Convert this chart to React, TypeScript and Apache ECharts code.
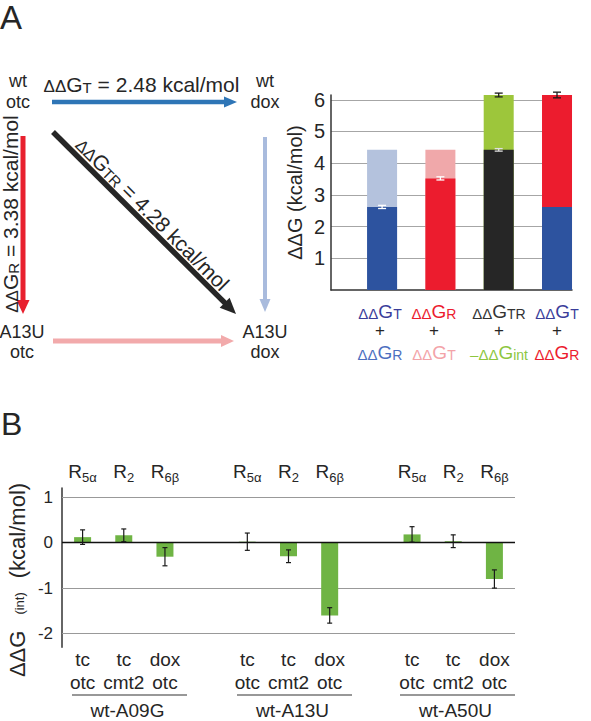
import React, { useEffect, useRef } from 'react';
import * as echarts from 'echarts';

const FONT = '"Liberation Sans", Arial, Helvetica, sans-serif';
const INK = '#262626';

// ---------------- Panel A: stacked bar chart ----------------
const aBarPositions = [1, 2, 3, 4];
const aLowerValues = [2.62, 3.52, 4.42, 2.62];
const aUpperValues = [1.8, 0.9, 1.73, 3.53];
const aLowerColors = ['#2d539f', '#ec1c2e', '#262626', '#2d539f'];
const aUpperColors = ['#b4c2dd', '#f0a8aa', '#9dc63b', '#ec1c2e'];
const aErrPositions = [1, 2, 3, 3, 4];
const aErrCenters = [2.62, 3.52, 4.42, 6.15, 6.15];
const aErrSizes = [0.05, 0.05, 0.04, 0.06, 0.09];
const aErrColors = ['#ffffff', '#ffffff', '#e0e0e0', '#1a1a1a', '#1a1a1a'];

// labels under panel A bars
const aTopTerms = ['T', 'R', 'TR', 'T'];
const aTopColors = ['#3a3d9a', '#ec1c2e', '#333333', '#3a3d9a'];
const aBottomPrefix = ['', '', '\u2013', ''];
const aBottomTerms = ['R', 'T', 'int', 'R'];
const aBottomColors = ['#4d6fbf', '#f3a3a8', '#8dc63f', '#ec1c2e'];

// diagram equations
const eqT = ' = 2.48 kcal/mol';
const eqR = ' = 3.38 kcal/mol';
const eqTR = ' = 4.28 kcal/mol';

// ---------------- Panel B: interaction energies ----------------
const bGroups = ['wt-A09G', 'wt-A13U', 'wt-A50U'];
const bConditions = ['tc\notc', 'tc\ncmt2', 'dox\notc'];
const bRegions = ['5\u03b1', '2', '6\u03b2'];
const bValues = [
  [0.12, 0.16, -0.31],
  [0.02, -0.3, -1.6],
  [0.18, 0.03, -0.8],
];
const bErrors = [
  [0.16, 0.14, 0.2],
  [0.19, 0.14, 0.17],
  [0.17, 0.14, 0.2],
];
const bYGrid = [1, -1, -2];

const SLOTS = 11;
const bSlotKeys: string[] = [];
const bSlotValues: any[] = [];
const bBottomLabels: string[] = [];
const bTopLabels: string[] = [];
const bErrData: number[][] = [];
for (let s = 0; s < SLOTS; s++) {
  bSlotKeys.push('s' + s);
  bSlotValues.push('-');
  bBottomLabels.push('');
  bTopLabels.push('');
}
bGroups.forEach((_g, gi) => {
  bConditions.forEach((c, ci) => {
    const s = gi * 4 + ci;
    bSlotValues[s] = bValues[gi][ci];
    bBottomLabels[s] = c;
    bTopLabels[s] = bRegions[ci];
    bErrData.push([s, bValues[gi][ci], bErrors[gi][ci]]);
  });
});

function arrow(x1: number, y1: number, x2: number, y2: number, color: string, w: number, hl: number, hw: number) {
  const dx = x2 - x1, dy = y2 - y1;
  const L = Math.hypot(dx, dy);
  const ux = dx / L, uy = dy / L;
  const bx = x2 - ux * hl, by = y2 - uy * hl;
  const px = -uy, py = ux;
  return [
    { type: 'line', silent: true, shape: { x1, y1, x2: bx + ux, y2: by + uy }, style: { stroke: color, lineWidth: w } },
    {
      type: 'polygon', silent: true,
      shape: { points: [[x2, y2], [bx + px * hw / 2, by + py * hw / 2], [bx - px * hw / 2, by - py * hw / 2]] },
      style: { fill: color },
    },
  ];
}

function txt(x: number, y: number, text: string, o: any = {}) {
  const style: any = {
    text, x: 0, y: 0,
    fill: o.fill || INK,
    fontSize: o.fontSize || 18,
    fontFamily: FONT,
    align: o.align || 'center',
    verticalAlign: o.verticalAlign || 'middle',
  };
  if (o.lineHeight) style.lineHeight = o.lineHeight;
  if (o.rich) style.rich = o.rich;
  return { type: 'text', silent: true, x, y, rotation: o.rotation || 0, style };
}

function termRich(fill: string, d: number, g: number, s: number) {
  return {
    d: { fontSize: d, fontFamily: FONT, fill, verticalAlign: 'bottom' },
    g: { fontSize: g, fontFamily: FONT, fill, verticalAlign: 'bottom' },
    s: { fontSize: s, fontFamily: FONT, fill, verticalAlign: 'bottom' },
  };
}

function errRender(colors: string[] | string, hw: number, lw: number) {
  return (params: any, api: any) => {
    const x = api.value(0), c = api.value(1), e = api.value(2);
    const p1 = api.coord([x, c + e]);
    const p2 = api.coord([x, c - e]);
    const stroke = Array.isArray(colors) ? colors[params.dataIndex] : colors;
    const st = () => ({ stroke, lineWidth: lw, fill: 'none' });
    return {
      type: 'group',
      children: [
        { type: 'line', shape: { x1: p1[0], y1: p1[1], x2: p2[0], y2: p2[1] }, style: st() },
        { type: 'line', shape: { x1: p1[0] - hw, y1: p1[1], x2: p1[0] + hw, y2: p1[1] }, style: st() },
        { type: 'line', shape: { x1: p2[0] - hw, y1: p2[1], x2: p2[0] + hw, y2: p2[1] }, style: st() },
      ],
    };
  };
}

export default function App() {
  const ref = useRef<HTMLDivElement>(null);
  useEffect(() => {
    if (!ref.current) return;
    const chart = echarts.init(ref.current, undefined, { renderer: 'svg' });

    const graphic: any[] = [];
    // Panel letters
    graphic.push(txt(0, 17, 'A', { fontSize: 33, align: 'left' }));
    graphic.push(txt(1, 423.5, 'B', { fontSize: 32, align: 'left' }));

    // Diagram arrows
    graphic.push(...arrow(52, 102, 237, 102, '#2e75b6', 4.5, 13, 11));
    graphic.push(...arrow(23, 136, 23, 314, '#e8202e', 5, 14, 13));
    graphic.push(...arrow(53, 132, 236, 314, '#262626', 5.5, 16, 14));
    graphic.push(...arrow(265, 137, 265, 312, '#a9bbdd', 4, 13, 11));
    graphic.push(...arrow(53, 341, 234, 341, '#f2aaab', 5, 13, 12));

    // Diagram state labels
    graphic.push(txt(18, 91, 'wt\notc', { lineHeight: 21 }));
    graphic.push(txt(265, 91, 'wt\ndox', { lineHeight: 21 }));
    graphic.push(txt(22, 342, 'A13U\notc', { lineHeight: 20 }));
    graphic.push(txt(265, 342, 'A13U\ndox', { lineHeight: 20 }));

    // Diagram equations
    const eqRich = termRich(INK, 17, 21, 15);
    graphic.push(txt(141.5, 84, '{d|\u0394\u0394}{g|G}{s|T}{g|' + eqT + '}', { rich: eqRich }));
    graphic.push(txt(10, 214, '{d|\u0394\u0394}{g|G}{s|R}{g|' + eqR + '}', { rich: eqRich, rotation: Math.PI / 2 }));
    graphic.push(txt(152.5, 214, '{d|\u0394\u0394}{g|G}{s|TR}{g|' + eqTR + '}', { rich: eqRich, rotation: -Math.PI / 4 }));

    // Labels under panel A bars
    const colX = [380, 434, 499, 557];
    colX.forEach((x, i) => {
      graphic.push(txt(x, 311, '{d|\u0394\u0394}{g|G}{s|' + aTopTerms[i] + '}', { rich: termRich(aTopColors[i], 15, 19, 14) }));
      graphic.push(txt(x, 330, '+', { fontSize: 17 }));
      const pre = aBottomPrefix[i] ? '{d|' + aBottomPrefix[i] + '}' : '';
      graphic.push(txt(x, 352, pre + '{d|\u0394\u0394}{g|G}{s|' + aBottomTerms[i] + '}', { rich: termRich(aBottomColors[i], 15, 19, 14) }));
    });

    // Panel B y-axis name
    graphic.push(txt(17, 580, '{a|\u0394\u0394G}{b|(int)}{a|(kcal/mol)}', {
      rotation: Math.PI / 2,
      rich: {
        a: { fontSize: 22, fontFamily: FONT, fill: INK, verticalAlign: 'bottom' },
        b: { fontSize: 13, fontFamily: FONT, fill: INK, verticalAlign: 'bottom', padding: [0, 14, 2, 16] },
      },
    }));

    // Panel B group underlines and labels
    const groupSpans = [[72, 187], [237, 352], [400, 515]];
    groupSpans.forEach((sp, i) => {
      graphic.push({ type: 'line', silent: true, shape: { x1: sp[0], y1: 695, x2: sp[1], y2: 695 }, style: { stroke: '#333', lineWidth: 1.2 } });
      graphic.push(txt((sp[0] + sp[1]) / 2 - 2, 710.5, bGroups[i], { fontSize: 19 }));
    });

    const intLabel = (v: number) => (Math.abs(v - Math.round(v)) < 1e-6 ? String(Math.round(v)) : '');
    const aTotals = aLowerValues.map((v, i) => +(v + aUpperValues[i]).toFixed(2));

    const option: any = {
      animation: false,
      backgroundColor: '#ffffff',
      textStyle: { fontFamily: FONT },
      grid: [
        { left: 331, top: 95, width: 241, height: 195, outerBoundsMode: 'none' },
        { left: 62, top: 488, width: 453, height: 159.25, outerBoundsMode: 'none' },
      ],
      xAxis: [
        {
          gridIndex: 0, type: 'value', min: 0.124, max: 4.257,
          axisLine: { show: true, onZero: false, lineStyle: { color: '#333', width: 1.5 } },
          axisTick: { show: false }, axisLabel: { show: false }, splitLine: { show: false },
        },
        {
          gridIndex: 1, type: 'category', data: bSlotKeys, position: 'bottom',
          axisLine: { show: false, onZero: false }, axisTick: { show: false },
          axisLabel: {
            interval: 0, margin: 0, fontSize: 19, lineHeight: 23.5, color: INK, fontFamily: FONT,
            formatter: (_v: string, i: number) => bBottomLabels[i] || '',
          },
          splitLine: { show: false },
        },
        {
          gridIndex: 1, type: 'category', data: bSlotKeys, position: 'top',
          axisLine: { show: false, onZero: false }, axisTick: { show: false },
          axisLabel: {
            interval: 0, margin: 4, color: INK, fontFamily: FONT,
            formatter: (_v: string, i: number) => (bTopLabels[i] ? '{r|R}{s|' + bTopLabels[i] + '}' : ''),
            rich: {
              r: { fontSize: 19, color: INK, fontFamily: FONT, lineHeight: 26, verticalAlign: 'middle' },
              s: { fontSize: 13, color: INK, fontFamily: FONT, verticalAlign: 'bottom' },
            },
          },
          splitLine: { show: false },
        },
      ],
      yAxis: [
        {
          gridIndex: 0, type: 'value', min: 0, max: 6.15, interval: 1,
          axisLine: { show: true, onZero: false, lineStyle: { color: '#333', width: 1.5 } },
          axisTick: { show: false },
          axisLabel: {
            fontSize: 20, color: INK, margin: 6, fontFamily: FONT,
            formatter: (v: number) => (v > 0 ? intLabel(v) : ''),
          },
          splitLine: { show: true, showMinLine: false, showMaxLine: false, lineStyle: { color: '#a6a6a6', width: 1 } },
          name: '\u0394\u0394G (kcal/mol)', nameLocation: 'middle', nameGap: 26,
          nameTextStyle: { fontSize: 20, color: INK, fontFamily: FONT },
        },
        {
          gridIndex: 1, type: 'value', min: -2.3, max: 1.2, splitNumber: 4,
          axisLine: { show: true, onZero: false, lineStyle: { color: '#333', width: 1.5 } },
          axisTick: { show: false },
          axisLabel: { fontSize: 17, color: INK, margin: 9, fontFamily: FONT, formatter: intLabel },
          splitLine: { show: false },
        },
      ],
      series: [
        {
          // full stacked height, coloured as the upper segment
          type: 'bar', xAxisIndex: 0, yAxisIndex: 0, barWidth: 30, barGap: '-100%',
          data: aBarPositions.map((x, i) => ({ value: [x, aTotals[i]], itemStyle: { color: aUpperColors[i] } })),
        },
        {
          // lower segment drawn over it
          type: 'bar', xAxisIndex: 0, yAxisIndex: 0, barWidth: 30, barGap: '-100%',
          data: aBarPositions.map((x, i) => ({ value: [x, aLowerValues[i]], itemStyle: { color: aLowerColors[i] } })),
        },
        {
          type: 'custom', xAxisIndex: 0, yAxisIndex: 0, clip: false, z: 10,
          data: aErrPositions.map((x, i) => [x, aErrCenters[i], aErrSizes[i]]),
          renderItem: errRender(aErrColors, 4, 1.3),
        },
        {
          type: 'bar', xAxisIndex: 1, yAxisIndex: 1, barWidth: 17,
          itemStyle: { color: '#6fb444' },
          data: bSlotValues,
          markLine: {
            silent: true, symbol: ['none', 'none'], z: 1, animation: false,
            label: { show: false },
            lineStyle: { color: '#999999', width: 1, type: 'solid' },
            data: bYGrid.map((v) => ({ yAxis: v })),
          },
        },
        {
          type: 'custom', xAxisIndex: 1, yAxisIndex: 1, clip: false, z: 10,
          data: bErrData,
          renderItem: errRender('#1a1a1a', 2.5, 1.2),
          markLine: {
            silent: true, symbol: ['none', 'none'], z: 3, animation: false,
            label: { show: false },
            lineStyle: { color: '#111111', width: 1.3, type: 'solid' },
            data: [{ yAxis: 0 }],
          },
        },
      ],
      graphic,
    };
    chart.setOption(option);
    return () => chart.dispose();
  }, []);
  return <div ref={ref} style={{ position: 'absolute', left: 0, top: 0, width: 591, height: 721 }} />;
}
